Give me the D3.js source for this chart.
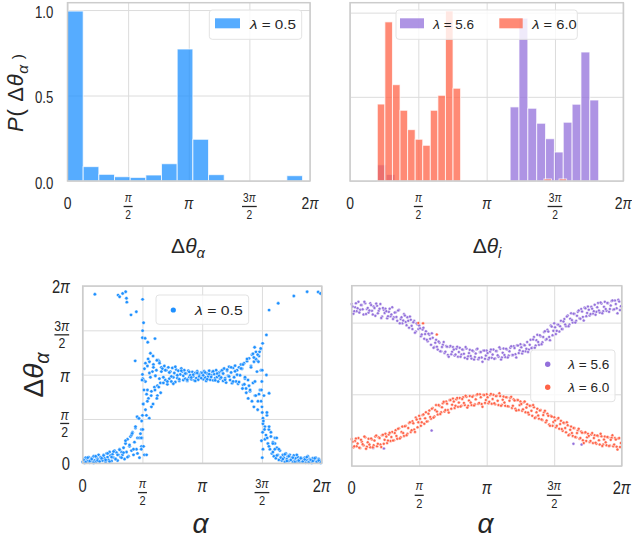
<!DOCTYPE html>
<html>
<head>
<meta charset="utf-8">
<script src="https://cdn.jsdelivr.net/npm/d3@7"></script>
<style>
body { margin: 0; background: #fff; }
text { font-family: "Liberation Sans", Arial, sans-serif; fill: #262626; }
</style>
</head>
<body>
<script>
var TAU = 2 * Math.PI;

// tick positions / labels shared by every panel
var piTicks = [0, Math.PI / 2, Math.PI, 3 * Math.PI / 2, TAU];
var piLabels = ['0', 'π/2', 'π', '3π/2', '2π'];
var probTicks = [0, 0.5, 1.0];
var probLabels = ['0.0', '0.5', '1.0'];

// top left: histogram of Δθ_α, λ = 0.5 (15 bins over [0, 6.09])
var histARange = [0, 6.09];
var histA = [0.994, 0.084, 0.039, 0.025, 0.021, 0.035, 0.101, 0.772, 0.244, 0.037, 0, 0, 0, 0, 0.031];

// top right: histograms of Δθ_i, 25 bins each
var hist56Range = [0.628, 5.717];
var hist56 = [0.096, 0.039, 0, 0, 0, 0, 0, 0, 0, 0, 0, 0, 0, 0, 0,
  0.440, 0.967, 0.432, 0.343, 0.251, 0.172, 0.349, 0.456, 0.766, 0.481];
var hist60Range = [0.628, 4.98];
var hist60 = [0.457, 0.945, 0.572, 0.420, 0.305, 0.248, 0.212, 0.420, 0.509, 1.010, 0.551,
  0, 0, 0, 0, 0, 0, 0, 0, 0, 0, 0, 0.012, 0, 0.012];

// bottom left: Δθ_α against α (evenly spaced α), λ = 0.5
var scatA = [
  0.05,0.15,0.02,0.20,0.10,0.08,0.22,0.03,0.12,0.18,0.06,0.25,0.10,0.04,0.20,0.15,0.30,0.08,0.22,0.12,
  0.10,0.30,0.18,0.05,0.35,0.22,0.12,0.40,0.28,0.08,0.32,0.20,0.45,0.15,0.38,0.10,0.30,0.50,0.22,0.40,
  0.30,0.55,0.15,0.70,0.40,0.85,0.25,0.60,0.95,0.45,1.10,0.30,0.75,1.25,0.50,0.90,1.60,0.20,1.05,0.60,
  3.15,2.10,3.35,2.90,1.70,3.45,2.30,3.60,3.05,2.55,3.25,3.50,2.70,3.10,3.30,2.40,3.65,3.00,2.85,3.40,
  3.35,2.85,3.45,2.95,3.30,2.80,3.40,3.00,3.25,2.90,3.38,3.05,3.20,2.88,3.32,3.02,3.28,2.92,3.15,3.36,
  3.25,2.95,3.30,3.00,3.18,2.92,3.28,3.05,3.12,2.98,3.24,3.08,2.94,3.20,3.02,3.26,2.96,3.14,3.06,3.22,
  3.20,2.98,3.26,3.04,2.92,3.18,3.08,3.28,2.96,3.12,3.24,2.94,3.16,3.02,3.30,3.06,2.90,3.22,3.00,3.27,
  3.30,2.92,3.36,3.02,2.86,3.28,3.10,3.42,2.95,3.22,2.84,3.38,3.05,3.46,2.90,3.30,2.82,3.40,3.12,3.50,
  3.35,2.78,3.55,3.00,2.65,3.62,2.95,3.72,2.55,3.45,3.85,2.85,3.60,2.40,3.95,3.25,2.20,3.80,2.60,4.05,
  2.00,1.60,2.40,1.30,1.00,1.70,0.70,1.20,0.50,0.95,0.35,0.75,0.25,0.90,0.18,0.55,0.30,0.12,0.45,0.22,
  0.10,0.30,0.20,0.05,0.35,0.15,0.25,0.08,0.30,0.12,0.20,0.05,0.28,0.10,0.18,0.06,0.22,0.12,0.04,0.20,
  0.05,0.15,0.10,0.20,0.03,0.12,0.25,0.06,0.15,0.10,0.02,0.18,0.08,0.12,0.20,0.05,0.10,0.15,0.04,0.08
];
// second sweep, half a step later (120 points)
var scatA2 = [
  0.12,0.04,0.20,0.08,0.15,0.02,0.25,0.10,0.06,0.18, 0.28,0.12,0.35,0.06,0.22,0.42,0.15,0.30,0.48,0.20,
  0.38,0.80,0.22,0.65,1.00,0.50,1.30,0.35,0.90,1.20, 2.95,3.55,2.60,3.20,2.00,3.40,3.10,2.75,3.60,3.25,
  3.05,3.30,2.90,3.22,3.08,2.82,3.42,3.12,2.98,3.28, 3.10,3.18,2.96,3.24,3.04,3.14,2.92,3.20,3.08,3.02,
  3.12,3.22,2.98,3.16,3.06,3.26,2.94,3.18,3.10,3.04, 3.18,2.96,3.32,3.08,3.40,2.90,3.26,3.14,2.88,3.36,
  3.50,3.05,3.70,2.75,3.40,3.88,2.90,3.65,2.45,3.30, 1.40,0.85,1.80,0.60,1.10,0.40,0.70,0.28,0.50,0.20,
  0.15,0.32,0.08,0.25,0.12,0.20,0.04,0.30,0.10,0.18, 0.06,0.14,0.22,0.03,0.12,0.08,0.18,0.05,0.10,0.02
];
// extra [α, Δθ_α] points: wrapped values near 2π, the jumps at π/2 and 3π/2
var scatAExtra = [
  [0.32,5.99],[0.93,5.96],[0.97,5.90],[1.05,6.02],[1.13,6.08],[1.15,5.85],[1.16,5.71],[1.27,5.26],
  [1.41,5.37],[1.575,5.81],[1.60,4.98],[1.575,4.70],
  [1.57,4.45],[1.58,3.00],[1.56,2.95],[1.59,2.10],[1.57,1.70],[1.55,1.50],[1.58,1.20],[1.56,0.90],
  [1.60,0.60],[1.62,0.30],[1.54,0.50],[1.61,2.60],[1.30,1.06],[1.43,1.65],[1.48,1.59],[1.54,0.90],
  [1.65,1.90],[1.70,2.20],[1.75,1.60],[1.80,2.40],[1.85,2.10],[1.90,2.60],[1.95,2.30],[2.00,2.70],
  [2.05,2.50],[1.68,2.45],[1.68,0.30],
  [1.38,3.63],[1.64,4.43],[1.71,4.29],[1.90,4.42],[1.78,3.90],[1.85,3.80],[1.72,3.70],[1.95,3.65],[2.02,3.55],
  [4.73,4.25],[4.68,4.07],[4.65,3.95],[4.60,3.85],[4.55,3.70],[4.50,3.75],[4.52,4.11],[4.62,3.60],
  [4.72,3.30],[4.83,3.13],[4.90,2.48],[4.71,2.90],[4.70,2.60],[4.69,2.20],[4.72,1.80],[4.75,1.50],
  [4.73,1.10],[4.70,0.80],[4.74,0.50],[4.72,0.20],[4.83,4.55],
  [4.20,2.65],[4.30,2.50],[4.35,2.30],[4.45,2.20],[4.50,2.00],[4.55,2.40],[4.60,1.90],[4.40,2.60],[4.25,2.80],
  [4.78,1.20],[4.85,0.90],[4.90,1.30],[5.00,0.70],[5.10,0.90],[5.05,0.50],
  [4.90,5.43],[5.14,5.67],[5.55,5.93],[5.90,6.08],[6.19,6.07],[6.25,6.02]
];

// bottom right: Δθ_i against α (evenly spaced α), two sweeps per series
var scat56 = [
  4.52,4.25,4.43,4.32,4.58,4.36,4.49,4.23,4.54,4.38, 4.28,4.54,4.33,4.45,4.19,4.47,4.33,4.52,4.17,4.36,
  4.39,4.12,4.30,4.18,4.43,4.15,4.29,4.05,4.36,4.10, 3.98,4.24,4.02,4.15,3.86,4.08,3.82,4.05,3.75,3.95,
  3.92,3.62,3.81,3.55,3.76,3.48,3.66,3.38,3.58,3.32, 3.52,3.25,3.44,3.20,3.38,3.15,3.35,3.10,3.33,3.12,
  3.32,3.08,3.27,3.05,3.30,3.11,3.24,3.02,3.28,3.06, 3.24,3.00,3.20,3.04,3.26,2.98,3.18,3.03,3.22,2.99,
  3.22,2.98,3.19,3.02,3.25,3.00,3.21,3.05,3.27,3.03, 3.28,3.04,3.25,3.08,3.30,3.10,3.34,3.12,3.37,3.15,
  3.40,3.14,3.38,3.20,3.46,3.25,3.52,3.30,3.60,3.36, 3.66,3.38,3.62,3.45,3.74,3.52,3.80,3.60,3.92,3.65,
  3.98,3.68,3.95,3.75,4.05,3.82,4.10,3.90,4.20,3.95, 4.26,4.00,4.25,4.05,4.30,4.12,4.38,4.16,4.42,4.18,
  4.45,4.20,4.44,4.25,4.50,4.30,4.55,4.28,4.53,4.32, 4.58,4.33,4.55,4.38,4.60,4.36,4.62,4.40,4.64,4.35
];
var scat56b = [
  4.45,4.32,4.54,4.40,4.28,4.49,4.37,4.58,4.24,4.41, 4.34,4.49,4.23,4.41,4.53,4.26,4.39,4.13,4.41,4.27,
  4.32,4.18,4.39,4.23,4.10,4.28,4.16,4.34,3.98,4.15, 4.06,4.20,3.93,4.05,4.17,3.91,4.01,3.72,3.98,3.82,
  3.84,3.67,3.86,3.68,3.52,3.69,3.55,3.70,3.30,3.44, 3.33,3.47,3.20,3.32,3.46,3.19,3.33,3.05,3.35,3.19,
  3.25,3.11,3.33,3.18,3.05,3.25,3.13,3.32,2.99,3.15, 3.07,3.22,2.97,3.14,3.27,3.02,3.18,2.91,3.22,3.08,
  3.15,3.02,3.25,3.11,2.99,3.21,3.09,3.31,2.97,3.16, 3.10,3.27,3.03,3.20,3.34,3.10,3.29,3.03,3.36,3.23,
  3.31,3.20,3.37,3.27,3.18,3.38,3.29,3.53,3.30,3.51, 3.46,3.65,3.40,3.60,3.76,3.54,3.75,3.51,3.89,3.77,
  3.87,3.77,3.94,3.90,3.82,4.03,3.95,4.17,3.90,4.11, 4.07,4.25,4.00,4.19,4.34,4.11,4.31,4.06,4.40,4.27,
  4.36,4.24,4.39,4.32,4.22,4.43,4.34,4.56,4.26,4.44, 4.38,4.55,4.30,4.48,4.62,4.37,4.52,4.26,4.59,4.46
];
var scat56Extra = [[1.86,0.99],[0.50,0.50],[0.75,0.49],[5.16,0.62],[5.35,0.60]];
var scat60 = [
  0.75,0.52,0.70,0.55,0.78,0.50,0.68,0.58,0.80,0.54, 0.76,0.52,0.74,0.58,0.82,0.55,0.80,0.60,0.86,0.62,
  0.90,0.64,0.88,0.70,0.95,0.72,1.00,0.76,1.05,0.80, 1.10,0.84,1.12,0.90,1.20,0.95,1.25,1.02,1.35,1.08,
  1.40,1.12,1.42,1.18,1.50,1.25,1.55,1.32,1.62,1.38, 1.70,1.44,1.68,1.50,1.75,1.52,1.80,1.56,1.84,1.60,
  1.88,1.62,1.86,1.65,1.90,1.68,1.92,1.70,1.93,1.68, 1.95,1.70,1.96,1.72,1.98,1.74,2.00,1.73,1.99,1.76,
  2.00,1.75,1.98,1.74,1.99,1.72,1.96,1.70,1.95,1.71, 1.94,1.68,1.92,1.66,1.90,1.62,1.86,1.60,1.84,1.56,
  1.80,1.54,1.78,1.50,1.72,1.44,1.68,1.40,1.64,1.36, 1.60,1.32,1.56,1.28,1.50,1.22,1.46,1.16,1.40,1.12,
  1.36,1.08,1.32,1.04,1.26,0.98,1.20,0.94,1.14,0.88, 1.10,0.84,1.06,0.80,1.00,0.76,0.96,0.72,0.93,0.70,
  0.90,0.67,0.88,0.64,0.86,0.62,0.84,0.60,0.83,0.60, 0.82,0.58,0.80,0.57,0.79,0.55,0.78,0.54,0.77,0.53
];
var scat60b = [
  0.68,0.55,0.77,0.63,0.51,0.73,0.61,0.82,0.48,0.66, 0.60,0.77,0.52,0.71,0.85,0.62,0.78,0.53,0.87,0.73,
  0.82,0.71,0.93,0.81,0.71,0.92,0.84,1.04,0.77,0.95, 0.92,1.11,0.86,1.06,1.22,1.00,1.19,0.95,1.30,1.22,
  1.32,1.22,1.44,1.33,1.24,1.46,1.37,1.60,1.35,1.56, 1.52,1.70,1.45,1.64,1.79,1.56,1.74,1.49,1.84,1.71,
  1.80,1.68,1.90,1.77,1.66,1.87,1.76,1.96,1.63,1.83, 1.77,1.93,1.69,1.86,2.00,1.76,1.92,1.65,1.98,1.84,
  1.92,1.79,2.01,1.87,1.75,1.95,1.82,2.03,1.68,1.85, 1.77,1.92,1.67,1.82,1.93,1.68,1.83,1.55,1.84,1.70,
  1.73,1.58,1.80,1.63,1.49,1.68,1.54,1.70,1.34,1.50, 1.41,1.55,1.30,1.42,1.54,1.27,1.40,1.12,1.38,1.23,
  1.27,1.12,1.34,1.17,1.03,1.21,1.06,1.22,0.86,1.01, 0.92,1.06,0.81,0.92,1.04,0.78,0.93,0.64,0.94,0.80,
  0.84,0.70,0.92,0.78,0.65,0.85,0.72,0.90,0.56,0.74, 0.66,0.81,0.56,0.73,0.86,0.60,0.74,0.46,0.78,0.64
];
var scat60Extra = [[1.55,3.99],[1.66,3.98],[1.98,3.67]];
var scatBTicks = [0, 2, 4];

var blue = '#1e90ff', purple = '#9370db', red = '#ff6347';
var gridColor = '#dcdcdc', frameColor = '#cccccc';

var svg = d3.select('body').append('svg')
    .attr('width', 632)
    .attr('height', 542);

function piText(sel, s) {
    s.split('').forEach(function(c) {
        sel.append('tspan')
            .attr('font-style', c === 'π' ? 'italic' : null)
            .text(c);
    });
}

// one tick label (plain or fraction), drawn in a squeezed group
function piLabel(parent, lab, tx, ty, o) {
    var t = parent.append('g')
        .attr('transform', 'translate(' + tx + ',' + ty + ') scale(0.82,1)');
    var anchor = o.anchor || 'middle';
    if (lab.indexOf('/') > 0) {
        var num = lab.split('/')[0];
        var w = num.length > 1 ? 18 : 11;
        var cx = anchor === 'end' ? -w / 2 - 1 : 0;
        t.append('text').attr('x', cx).attr('y', o.num)
            .attr('text-anchor', 'middle').attr('font-size', o.ffs)
            .call(piText, num);
        t.append('line')
            .attr('x1', cx - w / 2).attr('x2', cx + w / 2)
            .attr('y1', o.bar).attr('y2', o.bar)
            .attr('stroke', '#262626').attr('stroke-width', 1.3);
        t.append('text').attr('x', cx).attr('y', o.den)
            .attr('text-anchor', 'middle').attr('font-size', o.ffs)
            .text('2');
    } else {
        t.append('text').attr('y', o.base)
            .attr('text-anchor', anchor).attr('font-size', o.fs)
            .call(piText, lab);
    }
}

function panel(box, yDomain, yTicks) {
    var g = svg.append('g');
    var x = d3.scaleLinear().domain([0, TAU]).range([box.x0, box.x1]);
    var y = d3.scaleLinear().domain(yDomain).range([box.y1, box.y0]);

    g.append('g')
        .attr('transform', 'translate(0,' + box.y1 + ')')
        .call(d3.axisBottom(x).tickValues(piTicks).tickSize(box.y0 - box.y1).tickFormat(''))
        .call(function(s) {
            s.select('.domain').remove();
            s.selectAll('line').attr('stroke', gridColor).attr('stroke-width', 1);
        });
    g.append('g')
        .attr('transform', 'translate(' + box.x0 + ',0)')
        .call(d3.axisLeft(y).tickValues(yTicks).tickSize(box.x0 - box.x1).tickFormat(''))
        .call(function(s) {
            s.select('.domain').remove();
            s.selectAll('line').attr('stroke', gridColor).attr('stroke-width', 1);
        });

    var marks = g.append('g');
    var over = g.append('g');
    over.append('rect')
        .attr('x', box.x0).attr('y', box.y0)
        .attr('width', box.x1 - box.x0).attr('height', box.y1 - box.y0)
        .attr('fill', 'none').attr('stroke', frameColor).attr('stroke-width', 1.5);

    var xl = over.append('g');
    piTicks.forEach(function(v, i) {
        piLabel(xl, piLabels[i], x(v), box.y1, box.xlab);
    });
    return { g: g, marks: marks, over: over, x: x, y: y };
}

function histBars(p, counts, range, color, alpha) {
    var bw = (range[1] - range[0]) / counts.length;
    p.marks.append('g').selectAll('rect')
        .data(counts)
        .enter()
        .append('rect')
        .attr('x', function(d, i) { return p.x(range[0] + i * bw); })
        .attr('width', function(d, i) { return p.x(range[0] + (i + 1) * bw) - p.x(range[0] + i * bw); })
        .attr('y', function(d) { return p.y(d); })
        .attr('height', function(d) { return p.y(0) - p.y(d); })
        .attr('fill', color)
        .attr('fill-opacity', alpha)
        .attr('stroke', '#fff')
        .attr('stroke-opacity', alpha)
        .attr('stroke-width', 1);
}

// evenly spaced sweep in α, optionally shifted by a fraction of a step
function sweep(vals, shift) {
    return vals.map(function(v, i) { return [(i + shift) * TAU / vals.length, v]; });
}

function dots(p, pts, color, r) {
    p.marks.append('g').selectAll('circle')
        .data(pts)
        .enter()
        .append('circle')
        .attr('cx', function(d) { return p.x(d[0]); })
        .attr('cy', function(d) { return p.y(d[1]); })
        .attr('r', r)
        .attr('fill', color)
        .attr('stroke', '#fff')
        .attr('stroke-width', 0.45);
}

function legendBox(p, x, y, w, h) {
    p.over.append('rect')
        .attr('x', x).attr('y', y).attr('width', w).attr('height', h)
        .attr('rx', 3)
        .attr('fill', '#fff').attr('fill-opacity', 0.8)
        .attr('stroke', '#e3e3e3').attr('stroke-width', 1);
}

function legendText(p, x, y, s, len) {
    var t = p.over.append('text')
        .attr('x', x).attr('y', y)
        .attr('font-size', 13)
        .attr('textLength', len)
        .attr('lengthAdjust', 'spacingAndGlyphs');
    t.append('tspan').attr('font-style', 'italic').text('λ');
    t.append('tspan').text(' = ' + s);
}

function axisLabel(parent, x, y, fs, parts, rotate, len) {
    var t = parent.append('text')
        .attr('transform', 'translate(' + x + ',' + y + ')' + (rotate ? ' rotate(-90)' : ''))
        .attr('text-anchor', 'middle')
        .attr('font-size', fs);
    if (len) t.attr('textLength', len).attr('lengthAdjust', 'spacing');
    parts.forEach(function(p) {
        var s = t.append('tspan').text(p[0]);
        if (p[1]) s.attr('font-style', 'italic');
        if (p[2]) s.attr('font-size', fs * 0.7).attr('dy', p[2]);
    });
    return t;
}

var topLab = { fs: 17, ffs: 12.5, base: 28.5, num: 20.7, bar: 25.5, den: 38 };
var botLab = { fs: 18, ffs: 13.5, base: 28.5, num: 24.5, bar: 29.3, den: 41.7 };

// ---- top left ----
var pA = panel({ x0: 67.5, x1: 310, y0: 2.7, y1: 181, xlab: topLab }, [0, 1.043], probTicks);
histBars(pA, histA, histARange, blue, 0.75);
probTicks.forEach(function(v, i) {
    pA.over.append('text')
        .attr('x', 53.3).attr('y', pA.y(v) + 7.8)
        .attr('text-anchor', 'end').attr('font-size', 16)
        .attr('textLength', 18.3).attr('lengthAdjust', 'spacingAndGlyphs')
        .text(probLabels[i]);
});
legendBox(pA, 209.3, 10, 92.4, 29.3);
pA.over.append('rect').attr('x', 215).attr('y', 18.3).attr('width', 25).attr('height', 10)
    .attr('fill', blue).attr('fill-opacity', 0.75);
legendText(pA, 250, 29, '0.5', 46);
axisLabel(pA.over, 188, 253, 21, [['Δ'], ['θ', true], ['α', true, 5]]);
axisLabel(pA.over, 23, 93, 22, [['P', true], ['( '], ['Δ'], ['θ', true], ['α', true, 5], [' )', false, -5]], true, 78);

// ---- top right ----
var pB = panel({ x0: 350, x1: 623.3, y0: 2.7, y1: 181, xlab: topLab }, [0, 1.059], probTicks);
histBars(pB, hist56, hist56Range, purple, 0.75);
histBars(pB, hist60, hist60Range, red, 0.75);
legendBox(pB, 396, 10, 181.3, 29.3);
pB.over.append('rect').attr('x', 400).attr('y', 18.3).attr('width', 24).attr('height', 10)
    .attr('fill', purple).attr('fill-opacity', 0.75);
legendText(pB, 433.3, 29, '5.6', 40.7);
pB.over.append('rect').attr('x', 499.3).attr('y', 18.3).attr('width', 23.4).attr('height', 10)
    .attr('fill', red).attr('fill-opacity', 0.75);
legendText(pB, 532.3, 29, '6.0', 44.4);
axisLabel(pB.over, 487, 253, 21, [['Δ'], ['θ', true], ['i', true, 5]]);

// ---- bottom left ----
var pC = panel({ x0: 82.7, x1: 321.7, y0: 286, y1: 463.3, xlab: botLab }, [0, TAU], piTicks);
dots(pC, sweep(scatA, 0).concat(sweep(scatA2, 0.5), scatAExtra), blue, 1.7);
var yOpt = { fs: 18, ffs: 15, base: 7, num: 1, bar: 4.5, den: 18, anchor: 'end' };
piTicks.forEach(function(v, i) {
    piLabel(pC.over, piLabels[i], 70, pC.y(v), yOpt);
});
legendBox(pC, 156, 295, 92.7, 29.3);
pC.over.append('circle').attr('cx', 173.3).attr('cy', 310).attr('r', 2.6).attr('fill', blue);
legendText(pC, 195, 314.5, '0.5', 47.7);
axisLabel(pC.over, 200.5, 533, 28, [['α', true]]);
axisLabel(pC.over, 43, 375, 28, [['Δ'], ['θ', true], ['α', true, 6]], true);

// ---- bottom right ----
var pD = panel({ x0: 351.7, x1: 621.7, y0: 285.7, y1: 466, xlab: botLab }, [0, 5.03], scatBTicks);
dots(pD, sweep(scat56, 0).concat(sweep(scat56b, 0.5), scat56Extra), purple, 1.5);
dots(pD, sweep(scat60, 0).concat(sweep(scat60b, 0.5), scat60Extra), red, 1.5);
legendBox(pD, 530.7, 350, 84.3, 51.7);
pD.over.append('circle').attr('cx', 547.7).attr('cy', 364.3).attr('r', 2.7).attr('fill', purple);
pD.over.append('circle').attr('cx', 547.7).attr('cy', 387.3).attr('r', 2.7).attr('fill', red);
legendText(pD, 568.3, 368.8, '5.6', 41);
legendText(pD, 568.3, 391.8, '6.0', 41);
axisLabel(pD.over, 485.5, 533, 28, [['α', true]]);
</script>
</body>
</html>
